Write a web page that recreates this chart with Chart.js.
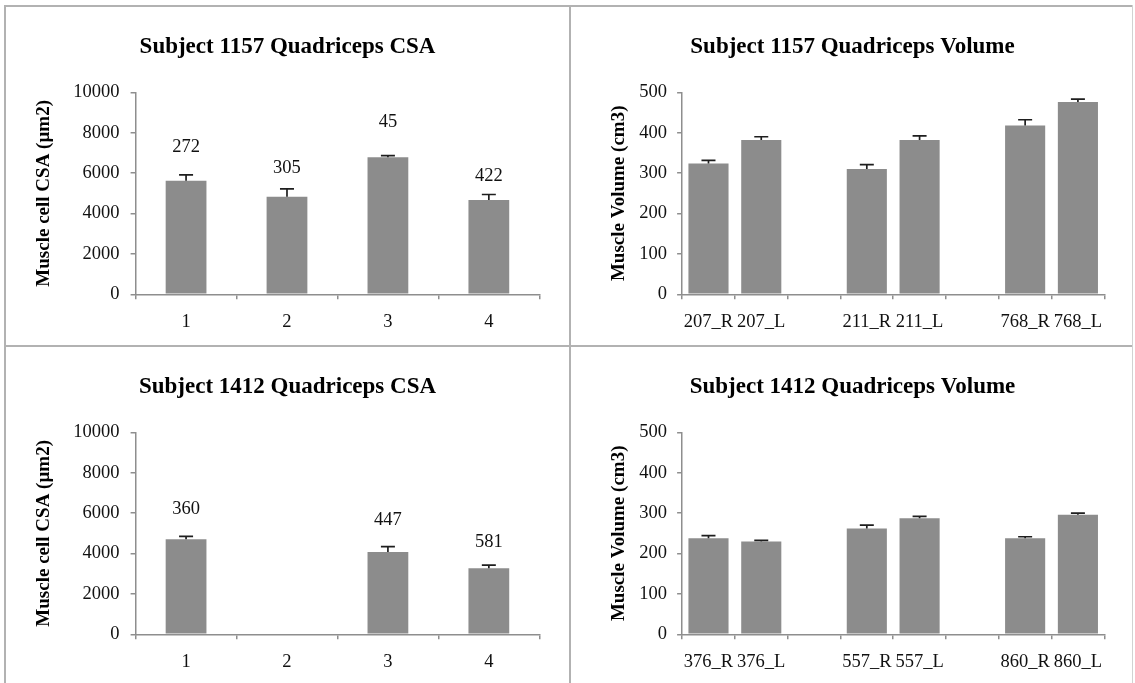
<!DOCTYPE html>
<html>
<head>
<meta charset="utf-8">
<title>Quadriceps CSA and Volume</title>
<script src="https://cdn.jsdelivr.net/npm/chart.js@4/dist/chart.umd.min.js"></script>
<style>
  html, body { margin: 0; padding: 0; background: #fff; }
  #page { position: relative; width: 1135px; height: 683px; overflow: hidden; background: #fff; }
  .panel { position: absolute; }
  .panel canvas { display: block; }
  .rule { position: absolute; background: #b2b2b2; z-index: 2; }
</style>
</head>
<body>
<div id="page">
  <div class="panel" style="left:7px;top:8px;"><canvas id="csa1157" width="561" height="336"></canvas></div>
  <div class="panel" style="left:573px;top:8px;"><canvas id="vol1157" width="559" height="336"></canvas></div>
  <div class="panel" style="left:7px;top:348px;"><canvas id="csa1412" width="561" height="335"></canvas></div>
  <div class="panel" style="left:573px;top:348px;"><canvas id="vol1412" width="559" height="335"></canvas></div>

  <!-- frame and dividers between the four panels -->
  <div class="rule" style="left:4px;top:5px;width:1129px;height:2px;"></div>
  <div class="rule" style="left:4px;top:5px;width:2px;height:678px;"></div>
  <div class="rule" style="left:569px;top:5px;width:2px;height:678px;"></div>
  <div class="rule" style="left:4px;top:345px;width:1129px;height:2px;"></div>
  <div class="rule" style="left:1132px;top:5px;width:1px;height:678px;background:#d2d2d2;"></div>
</div>

<script>
// ---- Subject 1157 ----
const csaCategories = ['1', '2', '3', '4'];
const csa1157Values = [5620, 4830, 6780, 4670];
const csa1157Errors = [290, 390, 90, 270];
const csa1157Counts = ['272', '305', '45', '422'];

const vol1157Categories = ['207_R', '207_L', '', '211_R', '211_L', '', '768_R', '768_L'];
const vol1157Values = [324, 382, null, 310, 382, null, 418, 476];
const vol1157Errors = [7.5, 8, null, 11, 10, null, 14, 7];

// ---- Subject 1412 ----
const csa1412Values = [4700, 0, 4080, 3270];
const csa1412Errors = [150, 0, 265, 150];
const csa1412Counts = ['360', '', '447', '581'];

const vol1412Categories = ['376_R', '376_L', '', '557_R', '557_L', '', '860_R', '860_L'];
const vol1412Values = [238, 230, null, 262, 287, null, 238, 296];
const vol1412Errors = [6, 2.5, null, 8, 5, null, 3.5, 4];

// axis tick values
const csaTicks = [0, 2000, 4000, 6000, 8000, 10000];
const volTicks = [0, 100, 200, 300, 400, 500];

const SERIF = "'Liberation Serif', 'Times New Roman', Times, serif";
const BAR = '#8c8c8c';
const AXIS = '#8e8e8e';

// upper whiskers with a cap, drawn from each bar's value plus its error
const errorBars = {
  id: 'errorBars',
  afterDatasetsDraw(chart, args, opts) {
    const ctx = chart.ctx;
    const ys = chart.scales.y;
    chart.data.datasets.forEach((ds, di) => {
      const meta = chart.getDatasetMeta(di);
      meta.data.forEach((bar, i) => {
        const v = ds.data[i];
        const e = ds.errors ? ds.errors[i] : null;
        if (v == null || !e) return;
        const yTop = ys.getPixelForValue(v + e);
        ctx.save();
        ctx.strokeStyle = opts.color;
        ctx.lineWidth = opts.width;
        ctx.beginPath();
        ctx.moveTo(bar.x, bar.y);
        ctx.lineTo(bar.x, yTop);
        ctx.moveTo(bar.x - opts.cap / 2, yTop);
        ctx.lineTo(bar.x + opts.cap / 2, yTop);
        ctx.stroke();
        ctx.restore();
      });
    });
  }
};

// sample-count text above each bar
const countLabels = {
  id: 'countLabels',
  afterDatasetsDraw(chart, args, opts) {
    if (!opts.texts) return;
    const ctx = chart.ctx;
    const ys = chart.scales.y;
    const ds = chart.data.datasets[0];
    const meta = chart.getDatasetMeta(0);
    ctx.save();
    ctx.fillStyle = '#111';
    ctx.font = '18.5px ' + SERIF;
    ctx.textAlign = 'center';
    ctx.textBaseline = 'middle';
    meta.data.forEach((bar, i) => {
      const t = opts.texts[i];
      if (!t) return;
      const top = ys.getPixelForValue(ds.data[i] + (ds.errors[i] || 0));
      ctx.fillText(t, bar.x, top - opts.lift[i]);
    });
    ctx.restore();
  }
};

function makeChart(id, o) {
  return new Chart(document.getElementById(id), {
    type: 'bar',
    data: {
      labels: o.labels,
      datasets: [{
        data: o.values,
        errors: o.errors,
        backgroundColor: BAR,
        borderWidth: 0,
        barPercentage: o.barPct,
        categoryPercentage: 1
      }]
    },
    options: {
      responsive: false,
      animation: false,
      devicePixelRatio: 1,
      layout: { padding: { left: o.side, right: o.side, top: 0, bottom: 0 } },
      plugins: {
        legend: { display: false },
        tooltip: { enabled: false },
        title: {
          display: true,
          text: o.title,
          color: '#000',
          font: { family: SERIF, size: 23, weight: 'bold', lineHeight: 1.2 },
          padding: { top: 25.5, bottom: 31.2 }
        },
        errorBars: { color: '#1e1e1e', width: 1.7, cap: 14 },
        countLabels: { texts: o.counts, lift: o.lift }
      },
      scales: {
        x: {
          grid: { display: true, drawOnChartArea: false, drawTicks: true, tickLength: 5, color: AXIS, lineWidth: 1.5, offset: true },
          border: { display: true, color: AXIS, width: 1.5 },
          ticks: { color: '#111', font: { family: SERIF, size: 18.5 }, padding: 12, maxRotation: 0, autoSkip: false },
          afterFit: s => { s.height = o.xH; }
        },
        y: {
          min: 0,
          max: o.ticks[o.ticks.length - 1],
          afterBuildTicks: s => { s.ticks = o.ticks.map(v => ({ value: v })); },
          grid: { display: true, drawOnChartArea: false, drawTicks: true, tickLength: 5, color: AXIS, lineWidth: 1.5 },
          border: { display: true, color: AXIS, width: 1.5 },
          ticks: { color: '#111', font: { family: SERIF, size: 18.5 }, padding: o.tickPad, callback: v => String(v) },
          title: {
            display: true,
            text: o.yTitle,
            color: '#000',
            font: { family: SERIF, size: 19, weight: 'bold', lineHeight: 1 },
            padding: { top: o.yTitlePad, bottom: 0 }
          },
          afterFit: s => { s.width = o.yW; }
        }
      }
    },
    plugins: [errorBars, countLabels]
  });
}

makeChart('csa1157', {
  title: 'Subject 1157 Quadriceps CSA', yTitle: 'Muscle cell CSA (\u00b5m2)',
  labels: csaCategories, values: csa1157Values, errors: csa1157Errors,
  counts: csa1157Counts, lift: [28, 21, 33, 18],
  ticks: csaTicks, barPct: 0.404, side: 28.7, yW: 99.9, xH: 49.7, tickPad: 11, yTitlePad: -1.5
});

makeChart('vol1157', {
  title: 'Subject 1157 Quadriceps Volume', yTitle: 'Muscle Volume (cm3)',
  labels: vol1157Categories, values: vol1157Values, errors: vol1157Errors,
  counts: null, lift: null,
  ticks: volTicks, barPct: 0.76, side: 27.7, yW: 81.4, xH: 49.7, tickPad: 10, yTitlePad: 9.3
});

makeChart('csa1412', {
  title: 'Subject 1412 Quadriceps CSA', yTitle: 'Muscle cell CSA (\u00b5m2)',
  labels: csaCategories, values: csa1412Values, errors: csa1412Errors,
  counts: csa1412Counts, lift: [27, 0, 26, 23],
  ticks: csaTicks, barPct: 0.404, side: 28.7, yW: 99.9, xH: 48.7, tickPad: 11, yTitlePad: -1.5
});

makeChart('vol1412', {
  title: 'Subject 1412 Quadriceps Volume', yTitle: 'Muscle Volume (cm3)',
  labels: vol1412Categories, values: vol1412Values, errors: vol1412Errors,
  counts: null, lift: null,
  ticks: volTicks, barPct: 0.76, side: 27.7, yW: 81.4, xH: 48.7, tickPad: 10, yTitlePad: 9.3
});
</script>
</body>
</html>
